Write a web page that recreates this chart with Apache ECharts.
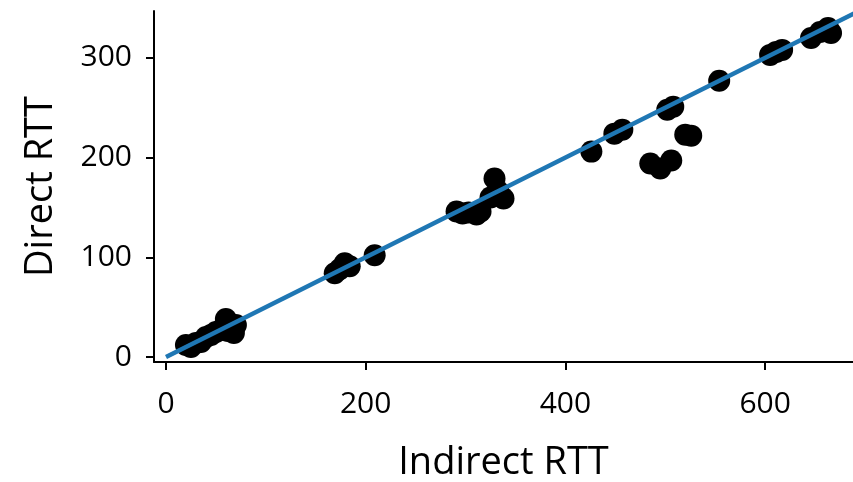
<!DOCTYPE html>
<html style="height: 100%">
   <head>
       <meta charset="utf-8">
       <script src="https://cdn.jsdelivr.net/npm/echarts@6/dist/echarts.min.js"></script>
       <title>Direct vs indirect RTT</title>
   </head>
   <body style="height: 100%; margin: 0; background: #fff">
       <div id="container" style="width: 853px; height: 482px"></div>
       <script type="text/javascript">

const indirectRtt = [20, 25, 30, 35, 40, 45, 50, 55, 60, 62, 65, 68, 70,
    169, 174, 179, 184, 209,
    291, 297, 303, 311, 315, 325, 333, 338, 329,
    426, 449, 457, 502, 508, 485, 495, 506, 520, 526,
    554, 605, 611, 617, 646, 655, 663, 666];
const directRtt = [12, 10, 14, 15, 20, 22, 25, 27, 38, 26, 30, 24, 32,
    84, 88, 94, 91, 102,
    146, 144, 145, 143, 146, 160, 166, 159, 179,
    206, 224, 228, 248, 251, 194, 189, 197, 223, 222,
    277, 303, 306, 308, 320, 326, 330, 325];

// reference line y = x / 2
const lineX = [0, 700];
const lineY = [0, 350];

const xTicks = [0, 200, 400, 600];
const yTicks = [0, 100, 200, 300];

let chart = echarts.init(document.getElementById("container"));

let points = indirectRtt.map(function (x, i) { return [x, directRtt[i]]; });
let linePts = lineX.map(function (x, i) { return [x, lineY[i]]; });

const font = 'Open Sans';

chart.setOption({
    animation: false,
    grid: { left: 154, top: 11, right: 0, bottom: 120, outerBoundsMode: 'none', containLabel: false },
    xAxis: {
        type: 'value',
        min: -12,
        max: 688,
        name: 'Indirect RTT',
        nameLocation: 'middle',
        nameGap: 82,
        nameTextStyle: { fontFamily: font, fontSize: 38, color: '#000' },
        splitLine: { show: false },
        axisLine: { onZero: false, lineStyle: { color: '#000', width: 2 } },
        axisTick: { show: true, length: 8, lineStyle: { color: '#000', width: 2 }, customValues: xTicks },
        axisLabel: { fontFamily: font, fontSize: 30, color: '#000', margin: 27, customValues: xTicks }
    },
    yAxis: {
        type: 'value',
        min: -5,
        max: 347,
        name: 'Direct RTT',
        nameLocation: 'middle',
        nameGap: 94,
        nameTextStyle: { fontFamily: font, fontSize: 38, color: '#000' },
        splitLine: { show: false },
        axisLine: { show: true, onZero: false, lineStyle: { color: '#000', width: 2 } },
        axisTick: { show: true, length: 8, lineStyle: { color: '#000', width: 2 }, customValues: yTicks },
        axisLabel: { fontFamily: font, fontSize: 30, color: '#000', margin: 22, customValues: yTicks }
    },
    series: [
        {
            type: 'scatter',
            data: points,
            symbolSize: 22,
            itemStyle: { color: '#000', opacity: 1 },
            z: 2
        },
        {
            type: 'line',
            data: linePts,
            showSymbol: false,
            clip: true,
            lineStyle: { color: '#1f77b4', width: 4.5 },
            z: 3
        }
    ]
});

       </script>
   </body>
</html>
